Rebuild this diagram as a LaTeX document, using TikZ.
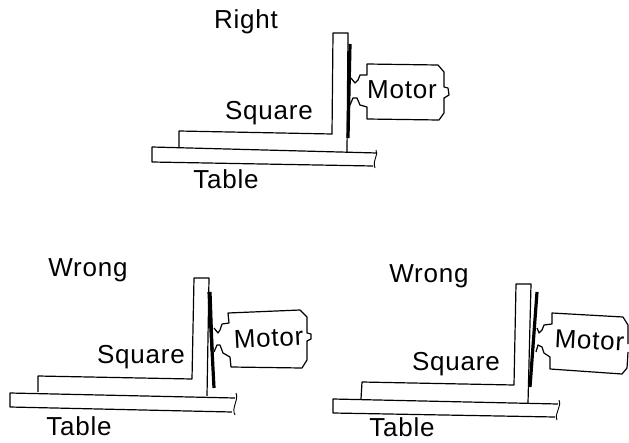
\documentclass[tikz,border=0pt]{standalone}
\usepackage{fontspec}
\setmainfont[LetterSpace=3]{Liberation Sans}
\tikzset{
  lbl/.style={anchor=base,inner sep=0pt,font=\fontsize{26}{28}\selectfont},
  part/.style={draw=black,line width=1.2pt,line join=round},
  plate/.style={draw=black,line width=3.2pt},
  brk/.style={draw=black,line width=0.9pt},
}
\begin{document}
\begin{tikzpicture}[x=1pt,y=-1pt]
\useasboundingbox (0,0) rectangle (629,442);
\node[lbl] (right) at (246,28) {Right};
\node[lbl] (sq1) at (269,119) {Square};
\node[lbl] (tb1) at (226,188) {Table};
\node[lbl] (mt1) at (402,98) {Motor};
\draw[part] (179,147)--(179,131)--(332,134)--(333,33)--(348,33)--(347,152);
\draw[part] (377,153)--(152,147)--(152,162)--(373,166);
\draw[brk] (376,150) .. controls (379,155) and (372,160) .. (375,168);
\draw[plate] (350,44)--(348,138);
\draw[part] (351,78)--(355,83)--(358,80)--(360,75)--(367,75)--(367,64)--(438,65)--(444,72)--(444,87)--(448,88)--(449,95)--(444,98)--(444,113)--(439,120)--(367,119)--(367,107)--(360,105)--(357,98)--(353,98)--(350,105);
\node[lbl] (wr2) at (88,276) {Wrong};
\node[lbl] (sq2) at (141,363) {Square};
\node[lbl] (tb2) at (79,435) {Table};
\node[lbl,rotate=3] (mt2) at (269,347) {Motor};
\draw[part] (38,392)--(38,376)--(192,379)--(194,278)--(209,278)--(207,396);
\draw[part] (235,398)--(10,393)--(10,407)--(232,412);
\draw[brk] (236,393) .. controls (239,400) and (231,408) .. (235,415);
\draw[plate] (209,292)--(214,388);
\draw[plate] (210,292)--(212,350);
\draw[part] (214,328)--(218,333)--(220,330)--(222,324)--(229,323)--(228,313)--(300,310)--(307,317)--(307,333)--(311,334)--(311,339)--(307,341)--(307,360)--(302,368)--(231,367)--(230,357)--(223,353)--(220,345)--(217,345)--(214,352);
\node[lbl] (wr3) at (429,282) {Wrong};
\node[lbl] (sq3) at (456,370) {Square};
\node[lbl] (tb3) at (402,436) {Table};
\node[lbl,rotate=-3] (mt3) at (589,349) {Motor};
\draw[part] (361,399)--(362,382)--(514,385)--(516,284)--(531,284)--(528,403);
\draw[part] (558,404)--(333,399)--(333,413)--(555,417);
\draw[brk] (559,400) .. controls (562,407) and (554,413) .. (557,420);
\draw[plate] (537,292)--(530,387);
\draw[part] (537,328)--(539,333)--(542,330)--(544,325)--(552,324)--(552,313)--(623,317)--(628,325)--(628,344);
\draw[part] (628,352)--(627,368)--(622,374)--(550,369)--(550,357)--(544,353)--(542,347)--(538,345)--(536,352);
\end{tikzpicture}
\end{document}
